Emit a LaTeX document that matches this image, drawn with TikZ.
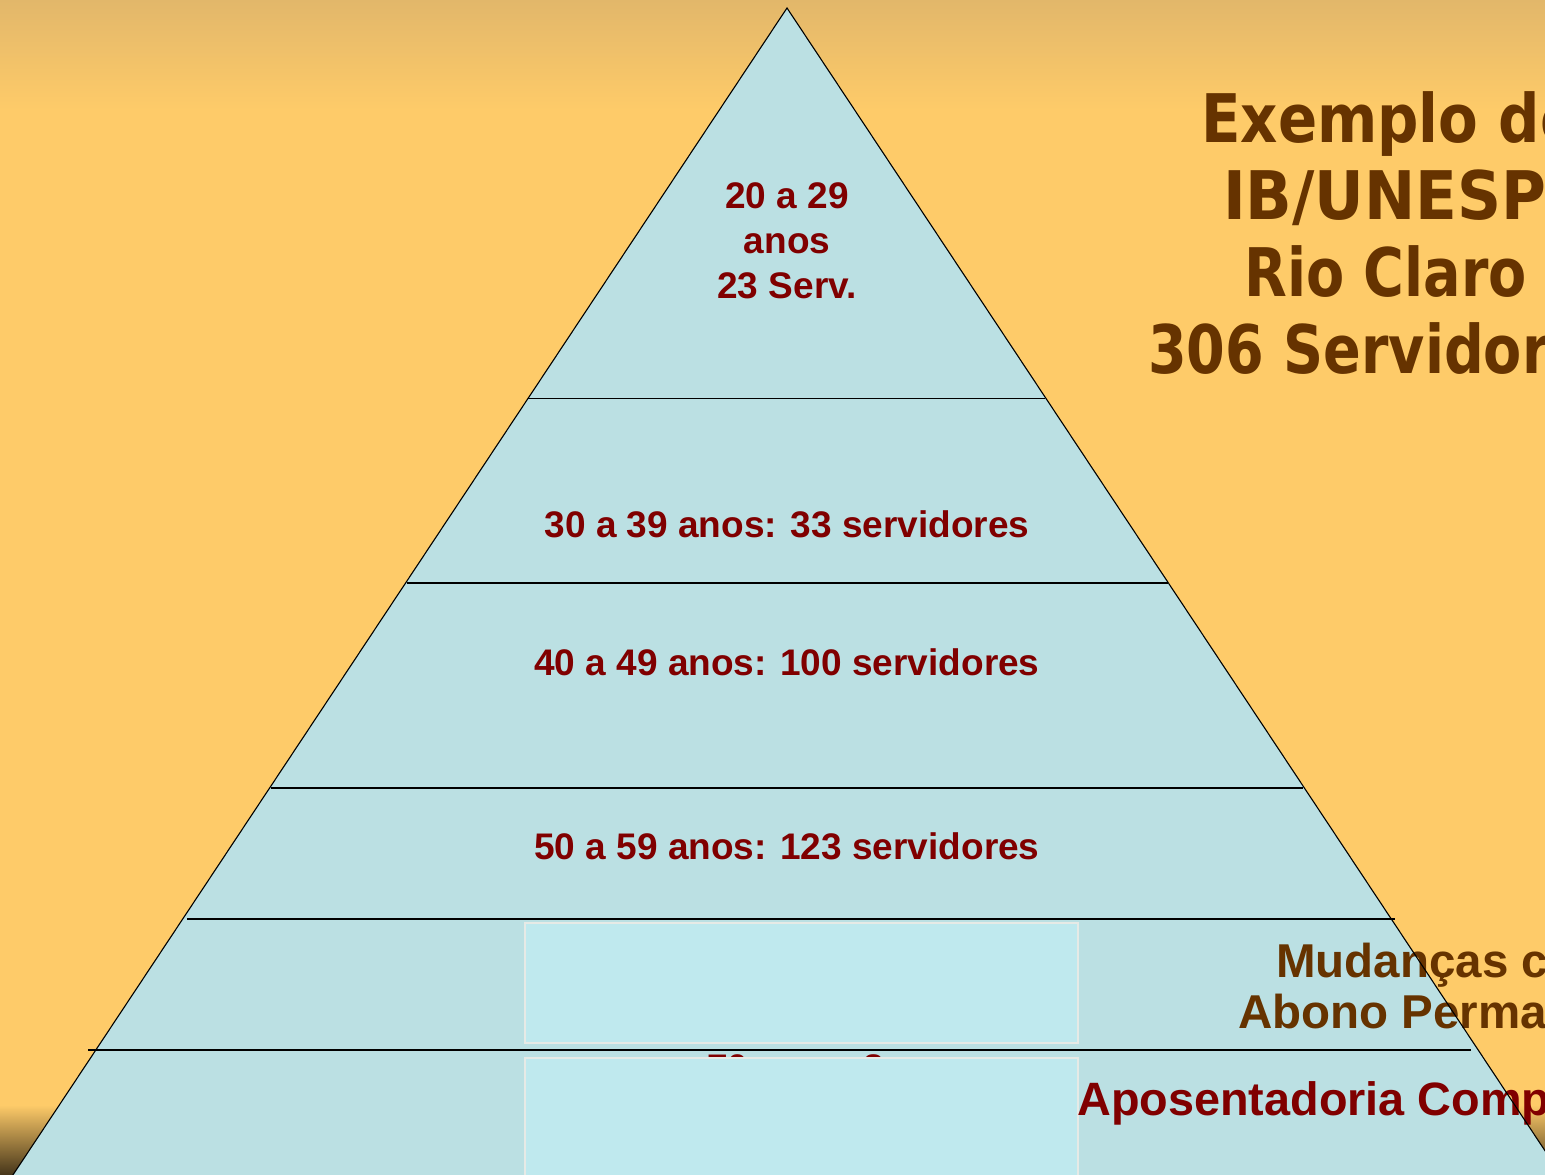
\documentclass[tikz,border=0pt]{standalone}
\usepackage{fontspec}
\setmainfont{Liberation Sans}
\newfontfamily\titlefont[FakeStretch=0.83]{DejaVu Sans}
\definecolor{bgtop}{HTML}{E2B76A}
\definecolor{bgmid}{HTML}{FECB69}
\definecolor{bgbot}{HTML}{45351A}
\definecolor{pyrfill}{HTML}{BBE0E3}
\definecolor{boxfill}{HTML}{BFE9EE}
\definecolor{boxline}{HTML}{E6EAE6}
\definecolor{labred}{HTML}{800000}
\definecolor{titbrown}{HTML}{663300}
\begin{document}
\begin{tikzpicture}[x=1pt,y=-1pt,
  bandlabel/.style={inner sep=0pt,text=labred,font=\fontsize{37}{45}\selectfont\bfseries},
  titleline/.style={inner sep=0pt,anchor=base west,text=titbrown,font=\titlefont\fontsize{67}{77}\selectfont\bfseries},
  sidetext/.style={inner sep=0pt,anchor=base west,font=\fontsize{47.5}{52}\selectfont\bfseries},
  thinline/.style={draw=black,line width=1pt},
  midline/.style={draw=black,line width=1.3pt},
  thickline/.style={draw=black,line width=2pt},
  innerbox/.style={fill=boxfill,draw=boxline,line width=1.5pt},
  edge/.style={draw=black,line width=1.1pt,line join=miter}]
\useasboundingbox (0,0) rectangle (1545,1175);
\clip (0,0) rectangle (1545,1175);
% background
\fill[bgmid] (0,0) rectangle (1545,1175);
\shade[top color=bgtop,bottom color=bgmid] (0,0) rectangle (1545,110);
\shade[top color=bgmid,bottom color=bgbot] (0,1105) rectangle (1545,1175);
% pyramid
\coordinate (apex) at (787,8);
\coordinate (bl) at (-7,1205);
\coordinate (br) at (1581,1205);
\fill[pyrfill] (apex) -- (bl) -- (br) -- cycle;
% band separators
\coordinate (s1a) at (528,398);  \coordinate (s1b) at (1045,398);
\coordinate (s2a) at (407,583);  \coordinate (s2b) at (1168,583);
\coordinate (s3a) at (271,788);  \coordinate (s3b) at (1303,788);
\coordinate (s4a) at (187,919);  \coordinate (s4b) at (1395,919);
\coordinate (s5a) at (88,1050);  \coordinate (s5b) at (1471,1050);
\draw[thinline] (s1a) -- (s1b);
\draw[midline] (s2a) -- (s2b);
\draw[midline] (s3a) -- (s3b);
\draw[thickline] (s4a) -- (s4b);
\draw[thickline] (s5a) -- (s5b);
% band labels
\node[bandlabel,anchor=base,align=center] (b20) at (787,298) {20 a 29\\anos\\23 Serv.};
\node[bandlabel,anchor=base] (b30) at (787,537) {30 a 39 anos: 33 servidores};
\node[bandlabel,anchor=base] (b40) at (787,675) {40 a 49 anos: 100 servidores};
\node[bandlabel,anchor=base] (b50) at (787,859) {50 a 59 anos: 123 servidores};
\node[bandlabel,anchor=base west] (b70) at (707,1080) {70 anos:\,8};
% overlay boxes
\draw[innerbox] (525,923) rectangle (1078,1043);
\draw[innerbox] (525,1058) rectangle (1078,1200);
% side texts
\node[sidetext,text=titbrown] (mud) at (1276,977) {Mudanças c};
\node[sidetext,text=titbrown] (abo) at (1238,1028) {Abono Perma};
\node[sidetext,text=labred,font=\fontsize{46.8}{50}\selectfont\bfseries] (apo) at (1077,1115) {Aposentadoria Comp};
% pyramid outline
\draw[edge] (bl) -- (apex) -- (br);
% title
\node[titleline] (t1) at (1201,142) {\scalebox{1.04}[1]{Exemplo de}};
\node[titleline] (t2) at (1223,219) {\scalebox{1.1}[1]{IB/UNESP}};
\node[titleline] (t3) at (1244,296) {Rio Claro};
\node[titleline] (t4) at (1148,373) {306 Servidores};
\end{tikzpicture}
\end{document}
